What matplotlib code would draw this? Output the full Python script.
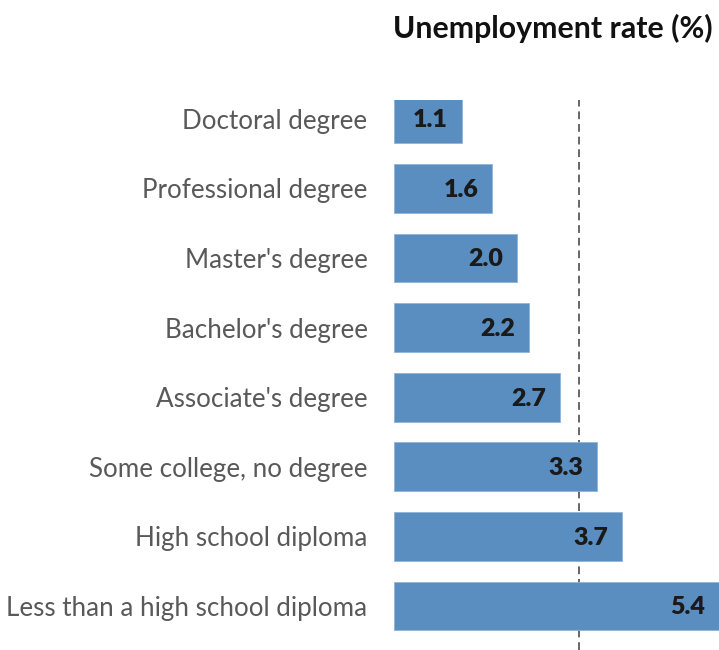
import matplotlib.pyplot as plt

# data (top to bottom)
categories = ["Doctoral degree", "Professional degree", "Master's degree",
              "Bachelor's degree", "Associate's degree", "Some college, no degree",
              "High school diploma", "Less than a high school diploma"]
rates = [1.1, 1.6, 2.0, 2.2, 2.7, 3.3, 3.7, 5.4]
all_workers = 3.0

plt.rcParams['font.family'] = ['Lato', 'DejaVu Sans']

fig = plt.figure(figsize=(7.19, 6.5), dpi=100)
ax = fig.add_axes([394 / 719, 0, 1 - 394 / 719, 1 - 100 / 650])

pos = list(range(len(categories)))[::-1]
ax.barh(pos, rates, height=0.7, color='#5A8EC1', edgecolor='#8FB3D9', linewidth=0.6, zorder=2)
ax.axvline(all_workers, color='#666666', linestyle=(0, (4, 2.5)), linewidth=1.4, zorder=1)

xmax = 5.28
ax.set_xlim(0, xmax)
ax.set_ylim(-0.632, 7.27)

for p, v in zip(pos, rates):
    ax.annotate(f"{v:.1f}", xy=(min(v, xmax), p), xytext=(-10, -1), textcoords='offset points',
                ha='right', va='center', fontsize=18, fontweight='heavy', color='#1a1a1a', zorder=3)

ax.set_yticks(pos)
ax.set_yticklabels(categories, fontsize=18.7, color='#595959')
ax.tick_params(axis='y', length=0, pad=19)
ax.set_xticks([])
for s in ax.spines.values():
    s.set_visible(False)

fig.text(393 / 719, 1 - 28 / 650, "Unemployment rate (%)", fontsize=21.8, fontweight='bold',
         color='#111111', ha='left', va='center')

fig.savefig('out.png', dpi=100)
